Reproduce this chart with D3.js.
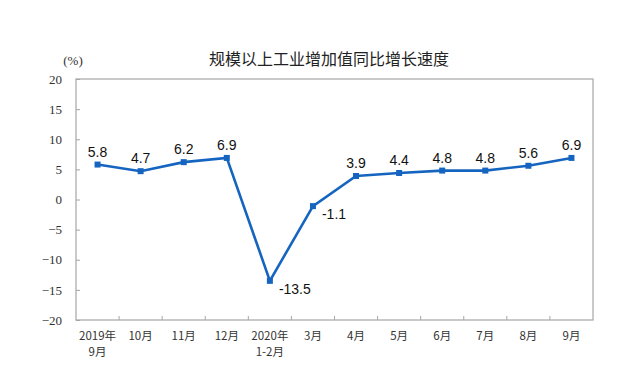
<!DOCTYPE html>
<meta charset="utf-8">
<style>
body { margin:0; background:#fff; }
.ytick { font-family: "Liberation Serif", "Times New Roman", serif; }
</style>
<body>
<div id="chart"></div>
<script src="https://d3js.org/d3.v7.min.js"></script>
<script>
var months = ["2019年|9月", "10月", "11月", "12月", "2020年|1-2月", "3月", "4月", "5月", "6月", "7月", "8月", "9月"];
var growth = [5.8, 4.7, 6.2, 6.9, -13.5, -1.1, 3.9, 4.4, 4.8, 4.8, 5.6, 6.9];
var yTicks = [20, 15, 10, 5, 0, -5, -10, -15, -20];

var width = 640, height = 378;
var pLeft = 76, pRight = 593, pTop = 79, pBottom = 320;

var svg = d3.select("#chart").append("svg")
    .attr("width", width)
    .attr("height", height);

var x = d3.scaleBand().domain(d3.range(months.length)).range([pLeft, pRight]);
var y = d3.scaleLinear().domain([-20, 20]).range([pBottom, pTop]);

// frame
svg.append("rect")
  .attr("x", pLeft).attr("y", pTop)
  .attr("width", pRight - pLeft).attr("height", pBottom - pTop)
  .attr("fill", "none").attr("stroke", "#a6a6a6").attr("stroke-width", 1.2);

// title
svg.append("text")
  .attr("x", 329).attr("y", 65)
  .attr("text-anchor", "middle")
  .attr("font-family", "Noto Sans CJK SC")
  .attr("font-size", 16)
  .attr("fill", "#222")
  .text("规模以上工业增加值同比增长速度");

svg.append("text")
  .attr("class", "ytick")
  .attr("x", 73).attr("y", 65)
  .attr("text-anchor", "middle")
  .attr("font-size", 13)
  .attr("fill", "#333")
  .text("(%)");

// y axis
var yAxis = svg.append("g")
  .attr("transform", "translate(" + pLeft + ",0)")
  .call(d3.axisRight(y).tickValues(yTicks).tickSize(4).tickFormat(d3.format("d")));
yAxis.select(".domain").remove();
yAxis.selectAll("line").attr("stroke", "#a6a6a6");
yAxis.attr("font-family", null);
yAxis.selectAll("text")
  .attr("class", "ytick")
  .attr("x", -14).attr("text-anchor", "end")
  .attr("font-size", 13).attr("fill", "#333");

// x ticks between categories
var xg = svg.append("g");
xg.selectAll("line")
  .data(d3.range(1, months.length))
  .enter().append("line")
  .attr("x1", function(i) { return x(i); })
  .attr("x2", function(i) { return x(i); })
  .attr("y1", pBottom).attr("y2", pBottom - 4)
  .attr("stroke", "#a6a6a6");

var xl = xg.selectAll("text")
  .data(months)
  .enter().append("text")
  .attr("x", function(d, i) { return x(i) + x.bandwidth() / 2; })
  .attr("y", 340)
  .attr("text-anchor", "middle")
  .attr("font-family", "Noto Sans CJK SC")
  .attr("font-size", 11.5)
  .attr("fill", "#333");
xl.each(function(d) {
  var parts = d.split("|");
  var t = d3.select(this);
  parts.forEach(function(p, k) {
    t.append("tspan")
      .attr("x", t.attr("x"))
      .attr("dy", k ? 16 : 0)
      .text(p);
  });
});

// line
var line = d3.line()
  .x(function(d, i) { return x(i) + x.bandwidth() / 2; })
  .y(function(d) { return y(d); });

svg.append("path")
  .datum(growth)
  .attr("d", line)
  .attr("fill", "none")
  .attr("stroke", "#1565c0")
  .attr("stroke-width", 2.6);

svg.selectAll("rect.pt")
  .data(growth)
  .enter().append("rect")
  .attr("class", "pt")
  .attr("x", function(d, i) { return x(i) + x.bandwidth() / 2 - 3; })
  .attr("y", function(d) { return y(d) - 3; })
  .attr("width", 6).attr("height", 6)
  .attr("fill", "#1565c0");

svg.selectAll("text.lbl")
  .data(growth)
  .enter().append("text")
  .attr("class", "lbl")
  .attr("x", function(d, i) {
    var cx = x(i) + x.bandwidth() / 2;
    return d < 0 ? cx + 9 : cx;
  })
  .attr("y", function(d) { return d < 0 ? y(d) + 13 : y(d) - 8; })
  .attr("text-anchor", function(d) { return d < 0 ? "start" : "middle"; })
  .attr("font-family", "Liberation Sans")
  .attr("font-size", 14)
  .attr("fill", "#111")
  .text(function(d) { return d.toFixed(1); });
</script>
</body>
</html>
